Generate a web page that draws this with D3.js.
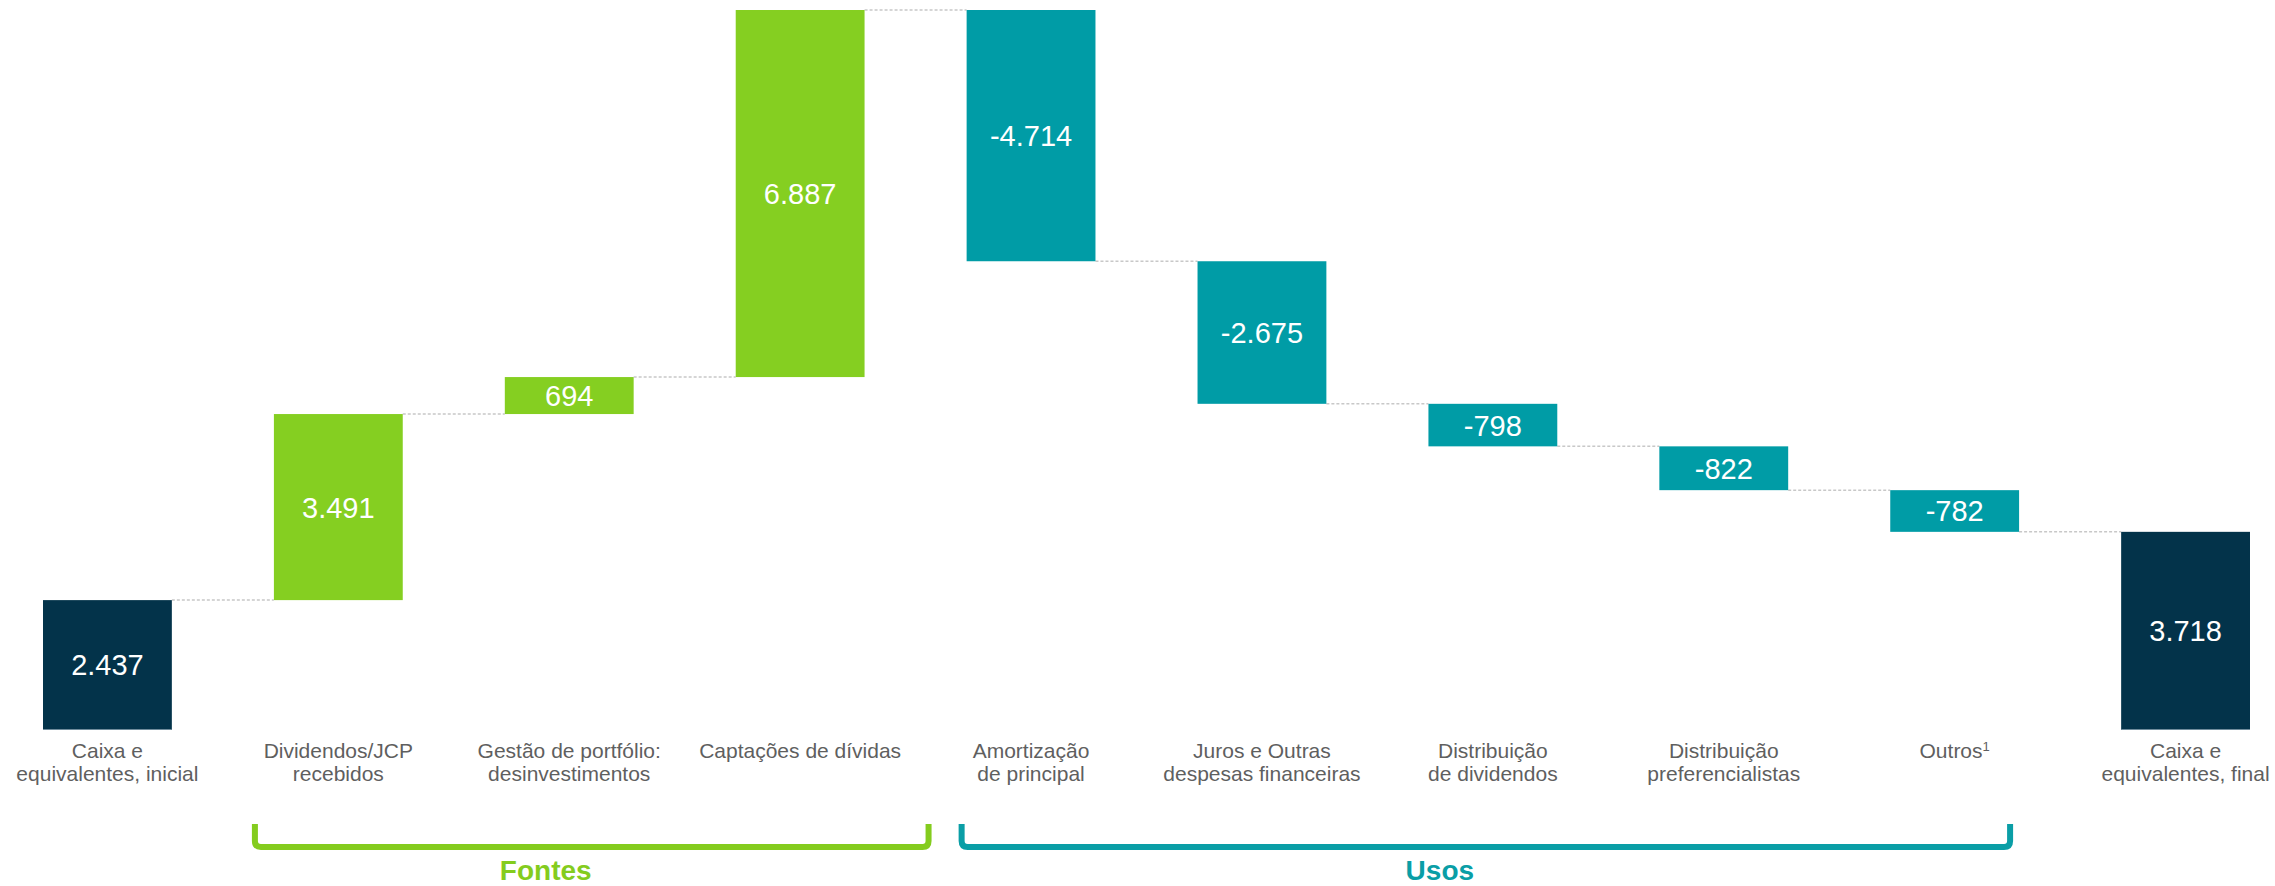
<!DOCTYPE html>
<html>
<head>
<meta charset="utf-8">
<script src="https://cdn.jsdelivr.net/npm/d3@7"></script>
<style>
  body { margin: 0; background: #fff; }
  svg { display: block; font-family: "Liberation Sans", Arial, sans-serif; }
</style>
</head>
<body>
<div id="chart"></div>
<script>
// chart data
var categories = ["Caixa e\nequivalentes, inicial", "Dividendos/JCP\nrecebidos", "Gestão de portfólio:\ndesinvestimentos",
	"Captações de dívidas", "Amortização\nde principal", "Juros e Outras\ndespesas financeiras",
	"Distribuição\nde dividendos", "Distribuição\npreferencialistas", "Outros", "Caixa e\nequivalentes, final"];
var values = [2437, 3491, 694, 6887, -4714, -2675, -798, -822, -782, 3718];
var kinds = ["total", "up", "up", "up", "down", "down", "down", "down", "down", "total"];
var footnotes = ["", "", "", "", "", "", "", "", "1", ""];
var groupNames = ["Fontes", "Usos"];
var groupFirst = [1, 4];
var groupLast = [3, 8];

var colors = { total: "#03334a", up: "#85cf21", down: "#009ca6" };
var groupColors = ["#84cc1e", "#0a9ea6"];

var W = 2275, H = 886;
var svg = d3.select("#chart")
	.append("svg")
	.attr("width", W)
	.attr("height", H);

// running totals for waterfall
var bars = [];
var run = 0;
for (var i = 0; i < values.length; i++) {
	var start, end;
	if (kinds[i] == "total") { start = 0; end = values[i]; run = values[i]; }
	else { start = run; end = run + values[i]; run = end; }
	bars.push({ i: i, cat: categories[i], v: values[i], kind: kinds[i], y0: Math.min(start, end), y1: Math.max(start, end), end: end });
}

var x = d3.scaleBand()
	.domain(categories)
	.range([43, 2250])
	.paddingInner(0.442)
	.paddingOuter(0);

var y = d3.scaleLinear()
	.domain([0, d3.max(bars, function(d){ return d.y1; })])
	.range([730, 10]);

var bw = x.bandwidth();
var fmt = d3.formatLocale({ decimal: ",", thousands: ".", grouping: [3], currency: ["R$", ""], minus: "-" }).format(",d");

// dashed connectors
svg.selectAll("line.conn")
		.data(bars.slice(0, bars.length - 1))
		.enter()
	.append("line")
		.attr("class", "conn")
		.attr("x1", function(d){ return x(d.cat) + bw; })
		.attr("x2", function(d){ return x(categories[d.i + 1]); })
		.attr("y1", function(d){ return y(d.end); })
		.attr("y2", function(d){ return y(d.end); })
		.style("stroke", "#c8c8c8")
		.style("stroke-width", 1.5)
		.style("stroke-dasharray", "3,2");

svg.selectAll("rect.bar")
		.data(bars)
		.enter()
	.append("rect")
		.attr("class", "bar")
		.attr("x", function(d){ return x(d.cat); })
		.attr("width", bw)
		.attr("y", function(d){ return y(d.y1); })
		.attr("height", function(d){ return y(d.y0) - y(d.y1); })
		.style("fill", function(d){ return colors[d.kind]; });

// light bottom edge on the total bars
svg.selectAll("line.base")
		.data(bars.filter(function(d){ return d.kind == "total"; }))
		.enter()
	.append("line")
		.attr("x1", function(d){ return x(d.cat); })
		.attr("x2", function(d){ return x(d.cat) + bw; })
		.attr("y1", y(0) - 0.5)
		.attr("y2", y(0) - 0.5)
		.style("stroke", "#6f8c9c")
		.style("stroke-width", 1);

svg.selectAll("text.val")
		.data(bars)
		.enter()
	.append("text")
		.attr("class", "val")
		.attr("x", function(d){ return x(d.cat) + bw / 2; })
		.attr("y", function(d){ return (y(d.y0) + y(d.y1)) / 2; })
		.attr("dy", "0.36em")
		.attr("text-anchor", "middle")
		.style("fill", "#fff")
		.style("font-size", "29px")
		.text(function(d){ return fmt(d.v); });

// category labels
var labels = svg.selectAll("text.cat")
		.data(bars)
		.enter()
	.append("text")
		.attr("class", "cat")
		.attr("text-anchor", "middle")
		.style("fill", "#5f5f5f")
		.style("font-size", "21px");

labels.each(function(d){
	var t = d3.select(this);
	var lines = d.cat.split("\n");
	lines.forEach(function(l, k){
		t.append("tspan")
			.attr("x", x(d.cat) + bw / 2)
			.attr("y", 758 + k * 23)
			.text(l);
		if (k == lines.length - 1 && footnotes[d.i]) {
			t.append("tspan")
				.attr("dy", "-0.55em")
				.style("font-size", "13px")
				.text(footnotes[d.i]);
		}
	});
});

// group brackets
var pads = [[-19, 64], [-5, -9]];
groupNames.forEach(function(name, g){
	var left = x(categories[groupFirst[g]]) + pads[g][0];
	var right = x(categories[groupLast[g]]) + bw + pads[g][1];
	var top = 824, bot = 847, r = 6;
	svg.append("path")
		.attr("d", "M" + left + "," + top + " V" + (bot - r) + " Q" + left + "," + bot + " " + (left + r) + "," + bot +
			" H" + (right - r) + " Q" + right + "," + bot + " " + right + "," + (bot - r) + " V" + top)
		.style("fill", "none")
		.style("stroke", groupColors[g])
		.style("stroke-width", 6);
	svg.append("text")
		.attr("x", (left + right) / 2 - 46)
		.attr("y", 880)
		.attr("text-anchor", "middle")
		.style("fill", groupColors[g])
		.style("font-size", "28px")
		.style("font-weight", "bold")
		.text(name);
});
</script>
</body>
</html>
